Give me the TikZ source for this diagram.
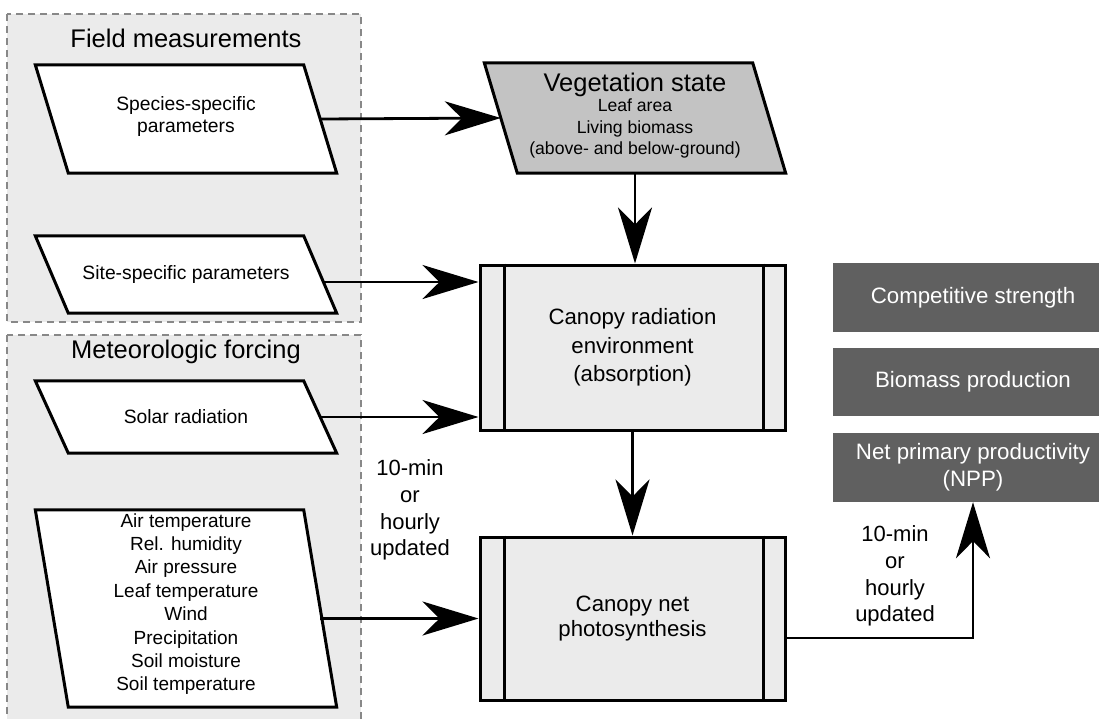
\documentclass[tikz,border=0pt]{standalone}
\usepackage{fontspec}
\setmainfont{Liberation Sans}
\usetikzlibrary{arrows.meta,calc}
\definecolor{panelgray}{HTML}{EBEBEB}
\definecolor{dashgray}{HTML}{888888}
\definecolor{veggray}{HTML}{C3C3C3}
\definecolor{boxgray}{HTML}{EBEBEB}
\definecolor{outgray}{HTML}{606060}
\begin{document}
\begin{tikzpicture}[x=1pt,y=-1pt,
  conn/.style={line width=2.8pt,-{Stealth[length=56pt,width=34pt,inset=17pt]}},
  panel/.style={draw=dashgray,fill=panelgray,line width=2pt,dash pattern=on 7pt off 5pt},
  paratext/.style={font=\fontsize{19.3}{22}\selectfont,align=center,inner sep=0pt},
  shapenode/.style={draw=none,inner sep=0pt,minimum width=268pt},
  para/.style={draw=black,line width=3pt,fill=white,line join=miter},
  canopy/.style={draw=black,fill=boxgray,line width=3pt,inner sep=0pt,minimum width=305pt,align=center},
  outbox/.style={fill=outgray,text=white,inner sep=0pt,minimum width=280pt,align=center,font=\fontsize{22.3}{27}\selectfont},
  title/.style={font=\fontsize{25.5}{28}\selectfont,inner sep=0pt},
  note/.style={font=\fontsize{22}{26.7}\selectfont,align=center,inner sep=0pt}
]
\useasboundingbox (0,0) rectangle (1099,718);
\fill[white] (0,0) rectangle (1099,718);

% panels
\draw[panel] (7,14) rectangle (361,322);
\draw[panel] (7,335) rectangle (361,740);
\node[title] (fmt) at (186,38) {Field measurements};
\node[title] (mft) at (186,352) {Meteorologic forcing};

% parallelograms (left)
\node[shapenode,minimum height=108pt] (sp) at (186,119) {};
\draw[para] ([xshift=-16.5pt]sp.north west) -- ([xshift=-16.5pt]sp.north east) -- ([xshift=16.5pt]sp.south east) -- ([xshift=16.5pt]sp.south west) -- cycle;
\node[paratext] (sptxt) at (186,117) {Species-specific\\parameters};

\node[shapenode,minimum height=77pt] (site) at (186,274.5) {};
\draw[para] ([xshift=-16.5pt]site.north west) -- ([xshift=-16.5pt]site.north east) -- ([xshift=16.5pt]site.south east) -- ([xshift=16.5pt]site.south west) -- cycle;
\node[paratext] (sitetxt) at (site.center) {Site-specific parameters};

\node[shapenode,minimum height=72pt] (solar) at (186,417) {};
\draw[para] ([xshift=-16.5pt]solar.north west) -- ([xshift=-16.5pt]solar.north east) -- ([xshift=16.5pt]solar.south east) -- ([xshift=16.5pt]solar.south west) -- cycle;
\node[paratext] (solartxt) at (solar.center) {Solar radiation};

\node[shapenode,minimum height=197pt] (met) at (186,608.5) {};
\draw[para] ([xshift=-16.5pt]met.north west) -- ([xshift=-16.5pt]met.north east) -- ([xshift=16.5pt]met.south east) -- ([xshift=16.5pt]met.south west) -- cycle;
\node[paratext,font=\fontsize{19}{23.4}\selectfont] (mettxt) at (186,604) {Air temperature\\Rel. humidity\\Air pressure\\Leaf temperature\\Wind\\Precipitation\\Soil moisture\\Soil temperature};

% vegetation state
\node[shapenode,minimum height=110pt] (veg) at (635,118) {};
\draw[para,fill=veggray] ([xshift=-16.5pt]veg.north west) -- ([xshift=-16.5pt]veg.north east) -- ([xshift=16.5pt]veg.south east) -- ([xshift=16.5pt]veg.south west) -- cycle;
\node[align=center,inner sep=0pt,font=\fontsize{17.6}{21.5}\selectfont] (vegtxt) at (635,115.5) {{\fontsize{25.5}{28}\selectfont Vegetation state}\\[-1pt]Leaf area\\Living biomass\\(above- and below-ground)};

% canopy boxes
\node[canopy,minimum height=165pt,font=\fontsize{22.2}{28.5}\selectfont] (rad) at (632.5,347.5) {Canopy radiation\\environment\\(absorption)};
\draw[line width=3pt] ([xshift=26pt]rad.north west) -- ([xshift=26pt]rad.south west);
\draw[line width=3pt] ([xshift=-23pt]rad.north east) -- ([xshift=-23pt]rad.south east);

\node[canopy,minimum height=163pt,font=\fontsize{22.2}{25.5}\selectfont] (net) at (632.5,618.5) {Canopy net\\photosynthesis};
\draw[line width=3pt] ([xshift=26pt]net.north west) -- ([xshift=26pt]net.south west);
\draw[line width=3pt] ([xshift=-23pt]net.north east) -- ([xshift=-23pt]net.south east);

% output boxes
\node[outbox,minimum height=69pt] (comp) at (973,297.5) {Competitive strength};
\node[outbox,minimum height=68pt] (bio) at (973,382) {Biomass production};
\node[outbox,minimum height=69pt] (npp) at (973,467.5) {Net primary productivity\\(NPP)};

% labels
\node[note] (lab1) at (410,510) {10-min\\or\\hourly\\updated};
\node[note] (lab2) at (895,576) {10-min\\or\\hourly\\updated};

% connectors
\draw[conn] (sp.east) -- (veg.west);
\draw[conn] (veg.south) -- (veg.south |- rad.north);
\draw[conn] ([xshift=3.3pt,yshift=-7.5pt]site.east) -- ([yshift=-7.5pt]site.east -| rad.west);
\draw[conn] (solar.east) -- (solar.east -| rad.west);
\draw[conn] (met.east |- net.west) -- (net.west);
\draw[conn] (rad.south) -- (net.north);
\draw[conn] ([yshift=-19.5pt]net.east) -| (npp.south);
\end{tikzpicture}
\end{document}
